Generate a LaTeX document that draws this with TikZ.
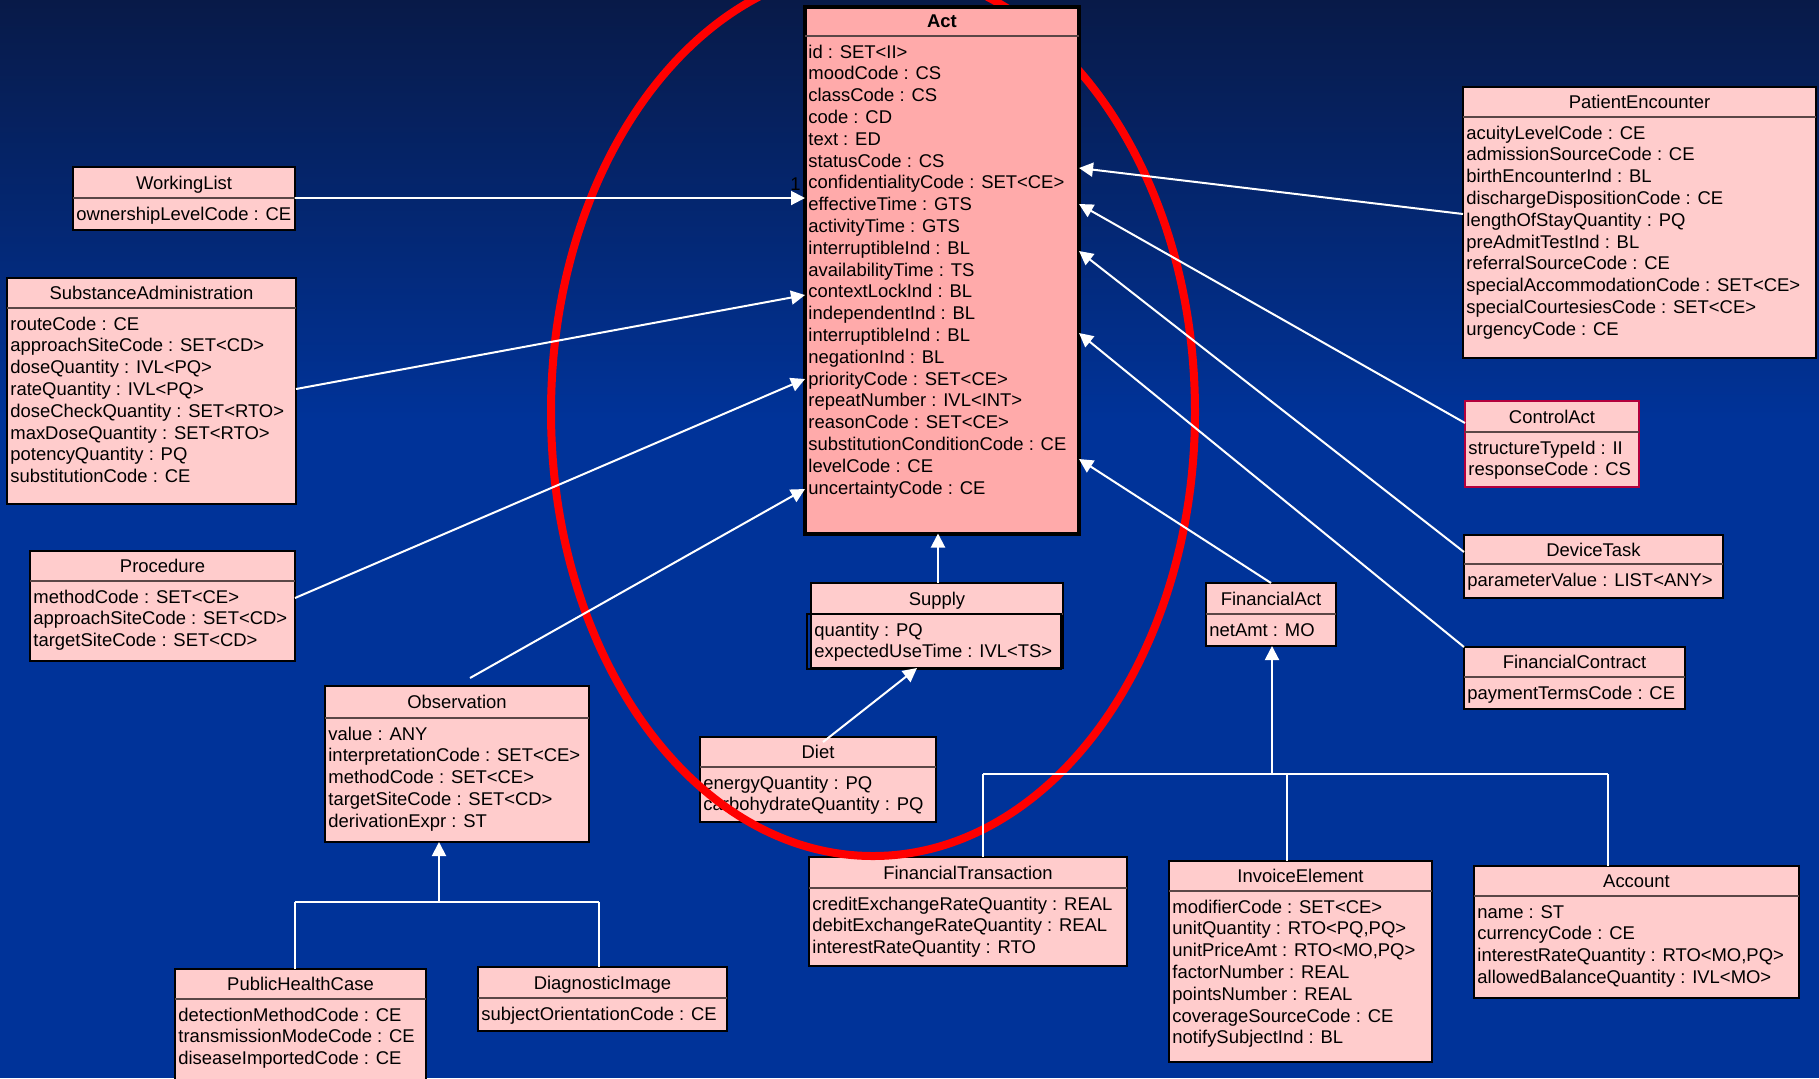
\documentclass[tikz,border=0pt]{standalone}
\usepackage{fontspec}
\setmainfont{Liberation Sans}
\usetikzlibrary{arrows.meta}
\definecolor{navytop}{RGB}{8,26,72}
\definecolor{ocean}{RGB}{0,51,153}
\definecolor{boxpink}{RGB}{255,204,204}
\definecolor{actpink}{RGB}{255,170,170}
\definecolor{seplc}{RGB}{90,70,70}
\definecolor{crimsonb}{RGB}{180,0,60}
\tikzset{
  clsbox/.style={draw=black, fill=boxpink, line width=0.8pt, inner sep=0pt, outer sep=0pt},
  sepline/.style={draw=seplc, line width=0.7pt},
  clstitle/.style={inner sep=0pt, font=\fontsize{9.22}{11}\selectfont},
  clsattr/.style={inner sep=0pt, font=\fontsize{9.22}{11}\selectfont},
  conn/.style={draw=white, line width=1pt, -{Triangle[length=7pt,width=7pt]}},
  treeline/.style={draw=white, line width=0.9pt},
}
% #1 extra style, #2 name, #3 x1, #4 y1, #5 x2, #6 y2, #7 separator y, #8 title, #9 attributes
\newcommand{\umlclass}[9][]{%
  \pgfmathsetmacro\ucW{0.5*(#5-#3)}%
  \pgfmathsetmacro\ucH{0.5*(#6-#4)}%
  \node[clsbox,#1,minimum width=\ucW pt,minimum height=\ucH pt,anchor=north west] (#2) at (#3,#4) {};
  \draw[sepline] (#3,#7) -- (#5,#7);
  \pgfmathsetmacro\ucTX{(#3+#5)/2}%
  \pgfmathsetmacro\ucTY{(#4+#7)/2+6.5}%
  \node[clstitle,anchor=base] (#2-t) at (\ucTX,\ucTY) {#8};
  \foreach \ucattr [count=\ucidx from 0] in {#9} {
    \pgfmathsetmacro\ucY{#7+22+21.8*\ucidx}
    \node[clsattr,anchor=base west] (#2-a\ucidx) at (#3+3,\ucY) {\ucattr};
  }
}
\begin{document}
\begin{tikzpicture}[x=0.5pt,y=-0.5pt]
\useasboundingbox (0,0) rectangle (1819,1078);
% background
\fill[ocean] (0,0) rectangle (1819,1078);
\shade[top color=navytop, bottom color=ocean] (0,0) rectangle (1819,420);

% classes
\umlclass{wl}{73}{167}{295}{230}{198}{WorkingList}{ownershipLevelCode : CE}
\umlclass{sub}{7}{278}{296}{504}{308}{SubstanceAdministration}{routeCode : CE, approachSiteCode : SET<CD>, doseQuantity : IVL<PQ>, rateQuantity : IVL<PQ>, doseCheckQuantity : SET<RTO>, maxDoseQuantity : SET<RTO>, potencyQuantity : PQ, substitutionCode : CE}
\umlclass{proc}{30}{551}{295}{661}{581}{Procedure}{methodCode : SET<CE>, approachSiteCode : SET<CD>, targetSiteCode : SET<CD>}
\umlclass{obs}{325}{686}{589}{842}{718}{Observation}{value : ANY, interpretationCode : SET<CE>, methodCode : SET<CE>, targetSiteCode : SET<CD>, derivationExpr : ST}
\umlclass{phc}{175}{969}{426}{1090}{999}{PublicHealthCase}{detectionMethodCode : CE, transmissionModeCode : CE, diseaseImportedCode : CE}
\umlclass{di}{478}{967}{727}{1031}{998}{DiagnosticImage}{subjectOrientationCode : CE}
\umlclass{sup}{811}{583}{1063}{668}{614}{Supply}{quantity : PQ, expectedUseTime : IVL<TS>}
\draw[line width=0.8pt] (807,614) rectangle (1061,669);
\umlclass{diet}{700}{737}{936}{822}{767}{Diet}{energyQuantity : PQ, carbohydrateQuantity : PQ}
\umlclass{fa}{1206}{583}{1336}{646}{614}{FinancialAct}{netAmt : MO}
\umlclass{ft}{809}{857}{1127}{966}{888}{FinancialTransaction}{creditExchangeRateQuantity : REAL, debitExchangeRateQuantity : REAL, interestRateQuantity : RTO}
\umlclass{ie}{1169}{861}{1432}{1062}{891}{InvoiceElement}{modifierCode : SET<CE>, {unitQuantity : RTO<PQ,PQ>}, {unitPriceAmt : RTO<MO,PQ>}, factorNumber : REAL, pointsNumber : REAL, coverageSourceCode : CE, notifySubjectInd : BL}
\umlclass{acc}{1474}{866}{1799}{998}{896}{Account}{name : ST, currencyCode : CE, {interestRateQuantity : RTO<MO,PQ>}, allowedBalanceQuantity : IVL<MO>}
\umlclass{pe}{1463}{87}{1816}{358}{117}{PatientEncounter}{acuityLevelCode : CE, admissionSourceCode : CE, birthEncounterInd : BL, dischargeDispositionCode : CE, lengthOfStayQuantity : PQ, preAdmitTestInd : BL, referralSourceCode : CE, specialAccommodationCode : SET<CE>, specialCourtesiesCode : SET<CE>, urgencyCode : CE}
\umlclass[draw=crimsonb]{ca}{1465}{401}{1639}{487}{432}{ControlAct}{structureTypeId : II, responseCode : CS}
\umlclass{dt}{1464}{535}{1723}{598}{564}{DeviceTask}{parameterValue : LIST<ANY>}
\umlclass{fc}{1464}{647}{1685}{709}{677}{FinancialContract}{paymentTermsCode : CE}

% red ellipse
\draw[red, line width=4pt] (873,412) ellipse [x radius=322, y radius=444];

% Act
\umlclass[fill=actpink, line width=2pt]{act}{805}{6.5}{1079}{533.5}{36}{\bfseries Act}{id : SET<II>, moodCode : CS, classCode : CS, code : CD, text : ED, statusCode : CS, confidentialityCode : SET<CE>, effectiveTime : GTS, activityTime : GTS, interruptibleInd : BL, availabilityTime : TS, contextLockInd : BL, independentInd : BL, interruptibleInd : BL, negationInd : BL, priorityCode : SET<CE>, repeatNumber : IVL<INT>, reasonCode : SET<CE>, substitutionConditionCode : CE, levelCode : CE, uncertaintyCode : CE}
\node[clsattr, anchor=base east] (one) at (801,190) {1};

% associations to Act
\draw[conn] (wl.east |- 0,198) -- (act.west |- 0,198);
\draw[conn] (sub.east |- 0,389) -- (act.west |- 0,295);
\draw[conn] (proc.east |- 0,598) -- (act.west |- 0,379);
\coordinate (obsfree) at (470,678);
\draw[conn] (obsfree) -- (act.west |- 0,489);
\draw[conn] (pe.west |- 0,214) -- (act.east |- 0,168);
\draw[conn] (ca.west |- 0,423) -- (act.east |- 0,204);
\draw[conn] (dt.west |- 0,552) -- (act.east |- 0,251);
\draw[conn] (fc.north west) -- (act.east |- 0,333);
\draw[conn] (fa.north) -- (act.east |- 0,459);
\draw[conn] (sup.north -| 938,0) -- (act.south -| 938,0);
\coordinate (dietfree) at (823,742);
\draw[conn] (dietfree) -- (sup.south -| 917,0);

% generalisation trees
\coordinate (fjoin) at (1272,774);
\draw[treeline] (983,774) -- (1608,774);
\draw[treeline] (ft.north -| 983,0) -- (983,774);
\draw[treeline] (ie.north -| 1287,0) -- (1287,774);
\draw[treeline] (acc.north -| 1608,0) -- (1608,774);
\draw[conn] (fjoin) -- (fa.south -| fjoin);
\coordinate (ojoin) at (439,902);
\draw[treeline] (295,902) -- (599,902);
\draw[treeline] (phc.north -| 295,0) -- (295,902);
\draw[treeline] (di.north -| 599,0) -- (599,902);
\draw[conn] (ojoin) -- (obs.south -| ojoin);
\end{tikzpicture}
\end{document}
